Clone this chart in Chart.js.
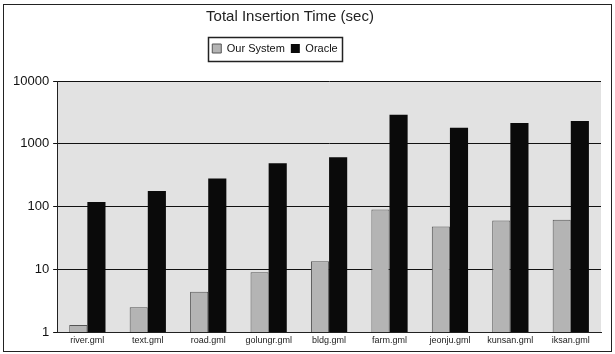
<!DOCTYPE html>
<html>
<head>
<meta charset="utf-8">
<script src="https://cdn.jsdelivr.net/npm/chart.js@4.4.1/dist/chart.umd.min.js"></script>
<style>
  html, body { margin: 0; padding: 0; background: #fff; }
  #wrap { width: 615px; height: 354px; }
</style>
</head>
<body>
<div id="wrap"><canvas id="insertChart" width="615" height="354"></canvas></div>
<script>
// data (log scale, seconds)
const files = ["river.gml", "text.gml", "road.gml", "golungr.gml", "bldg.gml", "farm.gml", "jeonju.gml", "kunsan.gml", "iksan.gml"];
const ourSystem = [1.3, 2.5, 4.4, 9, 13.5, 90, 48, 60, 62];
const oracle = [118, 177, 280, 490, 610, 2900, 1800, 2150, 2300];
const yTicks = [1, 10, 100, 1000, 10000];

const FONT = "'Liberation Sans', Arial, sans-serif";

/* frame, plot background, legend box, off-centre title/legend like the original */
const decor = {
    id: "decor",
    beforeUpdate(chart) {
        const lg = chart.legend;
        if (lg && !lg._spaced) {
            lg._spaced = true;
            const fit = lg.fit;
            lg.fit = function () { fit.call(this); this.height += 17; };
        }
    },
    afterUpdate(chart) {
        const lg = chart.legend, tb = chart.titleBlock;
        if (lg) {
            lg.left -= 30; lg.right -= 30;
            (lg.legendHitBoxes || []).forEach(b => { b.left -= 30; });
        }
        if (tb) { tb.left -= 15; tb.right -= 15; }
    },
    beforeDraw(chart) {
        const ctx = chart.ctx, a = chart.chartArea;
        ctx.save();
        ctx.fillStyle = "#fff";
        ctx.fillRect(0, 0, chart.width, chart.height);
        ctx.fillStyle = "#e2e2e2";
        ctx.fillRect(a.left, a.top, a.right - a.left, a.bottom - a.top);
        ctx.restore();
    },
    afterDraw(chart) {
        const ctx = chart.ctx, lg = chart.legend;
        ctx.save();
        ctx.strokeStyle = "#222";
        ctx.lineWidth = 1;
        ctx.strokeRect(3.5, 4.5, chart.width - 7, chart.height - 7);
        if (lg && lg.legendHitBoxes && lg.legendHitBoxes.length) {
            const hb = lg.legendHitBoxes;
            const x0 = Math.min(...hb.map(b => b.left)) - 4;
            const x1 = Math.max(...hb.map(b => b.left + b.width)) + 5;
            const y0 = Math.min(...hb.map(b => b.top)) - 6;
            const y1 = Math.max(...hb.map(b => b.top + b.height)) + 7;
            ctx.lineWidth = 1.5;
            ctx.strokeRect(Math.round(x0) + 0.5, Math.round(y0) + 0.5, Math.round(x1 - x0), Math.round(y1 - y0));
        }
        ctx.restore();
    }
};

new Chart(document.getElementById("insertChart"), {
    type: "bar",
    data: {
        labels: files,
        datasets: [{
            label: "Our System",
            data: ourSystem,
            backgroundColor: "#b4b4b4",
            borderColor: "#555",
            borderWidth: 1,
            borderSkipped: "bottom"
        }, {
            label: "Oracle",
            data: oracle,
            backgroundColor: "#0a0a0a",
            borderColor: "#000",
            borderWidth: 0
        }]
    },
    options: {
        responsive: false,
        animation: false,
        layout: { padding: { left: 9, right: 14, top: 4, bottom: 5 } },
        datasets: { bar: { categoryPercentage: 0.6, barPercentage: 1 } },
        plugins: {
            title: {
                display: true,
                text: "Total Insertion Time (sec)",
                color: "#222",
                font: { family: FONT, size: 15, weight: "normal" },
                padding: { top: 4, bottom: 11 }
            },
            legend: {
                position: "top",
                labels: {
                    color: "#111",
                    font: { family: FONT, size: 11 },
                    boxWidth: 9,
                    boxHeight: 9,
                    padding: 6
                }
            },
            tooltip: { enabled: false }
        },
        scales: {
            x: {
                grid: { display: false, drawTicks: false },
                border: { display: true, color: "#222" },
                ticks: {
                    color: "#222",
                    font: { family: FONT, size: 9 },
                    maxRotation: 0,
                    padding: 3
                }
            },
            y: {
                type: "logarithmic",
                min: 1,
                max: 10000,
                afterBuildTicks(scale) {
                    scale.ticks = yTicks.map(v => ({ value: v }));
                },
                grid: { color: "#111", lineWidth: 1, drawTicks: true, tickLength: 4 },
                border: { display: true, color: "#222" },
                ticks: {
                    color: "#111",
                    font: { family: FONT, size: 13 },
                    padding: 4,
                    callback: v => String(v)
                }
            }
        }
    },
    plugins: [decor]
});
</script>
</body>
</html>
